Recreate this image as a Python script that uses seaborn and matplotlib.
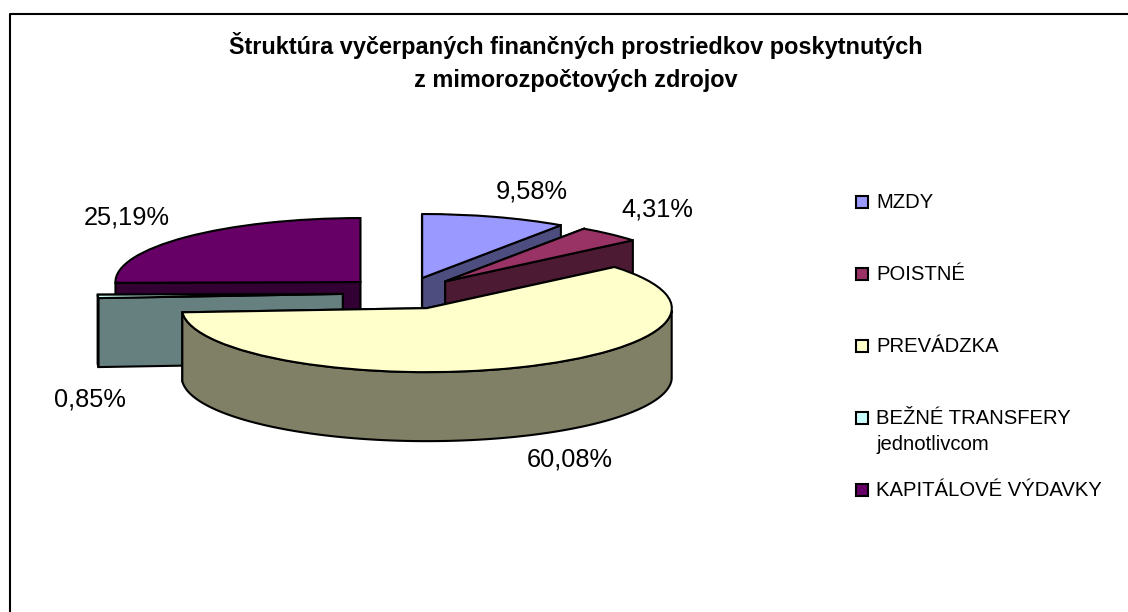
import numpy as np
import seaborn as sns
from matplotlib import pyplot as plt
from matplotlib.colors import to_rgb
from matplotlib.patches import Rectangle
from matplotlib.transforms import Affine2D

title = "Štruktúra vyčerpaných finančných prostriedkov poskytnutých\nz mimorozpočtových zdrojov"
categories = ["MZDY", "POISTNÉ", "PREVÁDZKA", "BEŽNÉ TRANSFERY\njednotlivcom", "KAPITÁLOVÉ VÝDAVKY"]
values = [9.58, 4.31, 60.08, 0.85, 25.19]
colors = ["#9999FF", "#993366", "#FFFFCC", "#CCFFFF", "#660066"]
labels = ["9,58%", "4,31%", "60,08%", "0,85%", "25,19%"]
# kde sú popisky v pixeloch
label_pos = [(532, 192), (657, 210), (570, 460), (90, 400), (127, 217)]
legend_y = [202, 274, 346, 418, 490]

sns.set_theme(style="white")
plt.rcParams["font.family"] = ["Liberation Sans", "DejaVu Sans"]

fig = plt.figure(figsize=(11.28, 6.12), dpi=100)
ax = fig.add_axes([0, 0, 1, 1])

# koláč kreslí matplotlib, potom sa sploští do elipsy
wedges, _ = ax.pie(values, colors=colors, explode=[0.25] * len(values), startangle=90,
                   counterclock=False, wedgeprops={"edgecolor": "black", "linewidth": 1.5})
ax.set_aspect("auto")
ax.set_xlim(0, 1128)
ax.set_ylim(612, 0)
ax.set_axis_on()
ax.set_xticks([])
ax.set_yticks([])
for side in ax.spines.values():
    side.set_visible(False)

squash = Affine2D().scale(245, -64).translate(404, 293.3)
depth = 69


def rim(wedge, t):
    # bod na okraji výseku, uhol t v stupňoch
    cx, cy = wedge.center
    p = [cx + wedge.r * np.cos(np.radians(t)), cy + wedge.r * np.sin(np.radians(t))]
    return squash.transform(p)


def draw_face(points, color, z):
    pts = np.array(list(points) + [p + [0, depth] for p in points[::-1]])
    ax.fill(pts[:, 0], pts[:, 1], facecolor=color, edgecolor="black", linewidth=1.5, zorder=z)


# poradie od zadu dopredu
order = [4, 0, 1, 3, 2]
for n, i in enumerate(order):
    w = wedges[i]
    shade = tuple(0.5 * c for c in to_rgb(colors[i]))
    z = 10 + 5 * n
    apex = squash.transform(w.center)
    # rez na theta1 je viditeľný, keď cos > 0, rez na theta2 keď cos < 0
    first, second = w.theta2, w.theta1
    if np.cos(np.radians(w.theta2)) < 0:
        first, second = w.theta1, w.theta2
    draw_face([apex, rim(w, first)], shade, z)
    draw_face([apex, rim(w, second)], shade, z + 1)
    # vonkajšia stena, len predná polovica elipsy
    ts = np.linspace(w.theta1, w.theta2, 120)
    front = [rim(w, t) for t in ts if np.sin(np.radians(t)) <= 0]
    if len(front) > 1:
        draw_face(front, shade, z + 2)
    w.set_transform(squash + ax.transData)
    w.set_zorder(z + 3)

for (x, y), text in zip(label_pos, labels):
    ax.text(x, y, text, fontsize=18.3, color="black", ha="center", va="center", zorder=50)

ax.text(576, 62, title, fontsize=16.9, fontweight="bold", color="black", ha="center", va="center",
        linespacing=1.53)

for y, color, name in zip(legend_y, colors, categories):
    ax.add_patch(Rectangle((856, y - 6), 12, 12, facecolor=color, edgecolor="black", linewidth=1.5))
    if "\n" in name:
        first, second = name.split("\n")
        ax.text(876, y, first, fontsize=14.6, color="black", ha="left", va="center")
        ax.text(876, y + 27, second, fontsize=14.6, color="black", ha="left", va="center")
    else:
        ax.text(876, y, name, fontsize=14.6, color="black", ha="left", va="center")

# rámček grafu, vpravo a dole je orezaný
ax.plot([10, 10, 1128], [612, 14, 14], color="black", linewidth=1.5, zorder=60)

fig.savefig("out.png", dpi=100)
